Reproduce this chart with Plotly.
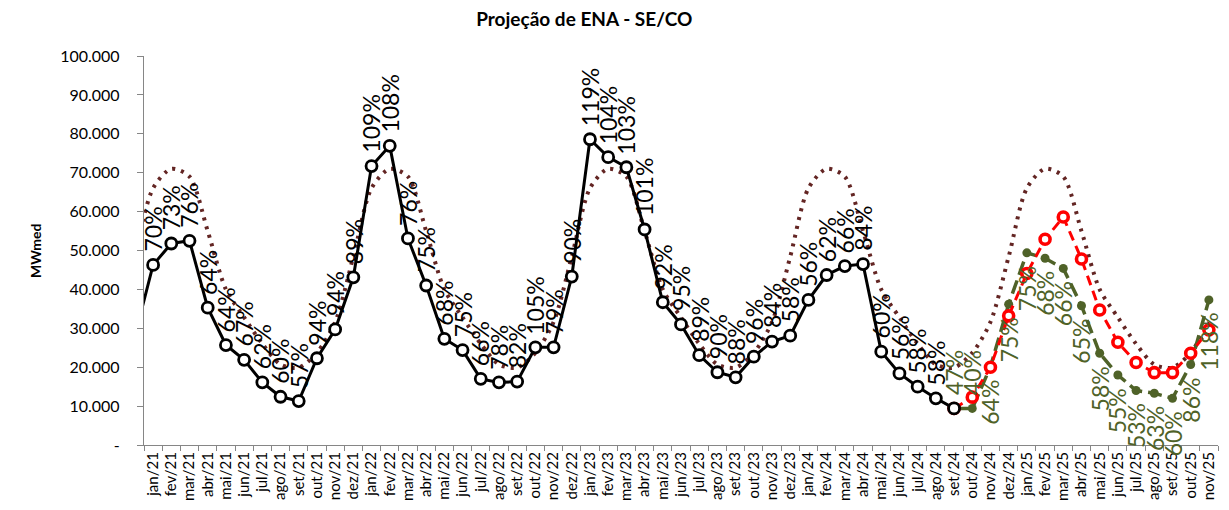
import plotly.graph_objects as go

# ---------------- data ----------------
lead_month = "dez/20"
months = [
    "jan/21", "fev/21", "mar/21", "abr/21", "mai/21", "jun/21", "jul/21", "ago/21", "set/21", "out/21", "nov/21", "dez/21",
    "jan/22", "fev/22", "mar/22", "abr/22", "mai/22", "jun/22", "jul/22", "ago/22", "set/22", "out/22", "nov/22", "dez/22",
    "jan/23", "fev/23", "mar/23", "abr/23", "mai/23", "jun/23", "jul/23", "ago/23", "set/23", "out/23", "nov/23", "dez/23",
    "jan/24", "fev/24", "mar/24", "abr/24", "mai/24", "jun/24", "jul/24", "ago/24", "set/24", "out/24", "nov/24", "dez/24",
    "jan/25", "fev/25", "mar/25", "abr/25", "mai/25", "jun/25", "jul/25", "ago/25", "set/25", "out/25", "nov/25",
]

# MLT (long-term average), dez/20 .. nov/25
mlt = [
    48400,
    66000, 71000, 69000, 55000, 40000, 32800, 26000, 20700, 19900, 23700, 31600, 48400,
    66000, 71000, 69000, 55000, 40000, 32800, 26000, 20700, 19900, 23700, 31600, 48400,
    66000, 71000, 69000, 55000, 40000, 32800, 26000, 20700, 19900, 23700, 31600, 48400,
    66000, 71000, 69000, 55000, 40000, 32800, 26000, 20700, 19900, 23700, 31600, 48400,
    66000, 71000, 69000, 55000, 40000, 32800, 26000, 20700, 19900, 23700, 31600,
]

# Verified ENA, dez/20 .. set/24
ena_verified = [
    28000,
    46300, 51800, 52500, 35300, 25700, 21900, 16100, 12400, 11300, 22300, 29700, 43100,
    71700, 76900, 53100, 41000, 27300, 24400, 17000, 16100, 16300, 25100, 25100, 43300,
    78600, 74000, 71400, 55400, 36700, 31000, 23100, 18700, 17400, 22700, 26600, 28100,
    37300, 43700, 46000, 46500, 24000, 18400, 15000, 12000, 9400,
]
# % MLT labels, jan/21 .. ago/24
ena_verified_pct = [
    70, 73, 76, 64, 64, 67, 62, 60, 57, 94, 94, 89,
    109, 108, 76, 75, 68, 75, 66, 78, 82, 105, 79, 90,
    119, 104, 103, 101, 92, 95, 89, 90, 88, 96, 84, 58,
    56, 62, 66, 84, 60, 56, 58, 58,
]

forecast_months = months[44:]  # set/24 .. nov/25
forecast_red = [9400, 12300, 20000, 33200, 44100, 52900, 58600, 47800, 34700, 26400, 21200, 18600, 18600, 23600, 29600]
forecast_green = [9400, 9400, 20100, 36200, 49400, 48000, 45400, 35800, 23600, 18000, 14000, 13300, 12000, 20700, 37300]
forecast_green_pct = [47, 40, 64, 75, 75, 68, 66, 65, 58, 55, 53, 63, 60, 86, 118]

y_tickvals = [0, 10000, 20000, 30000, 40000, 50000, 60000, 70000, 80000, 90000, 100000]
y_ticktext = ["-", "10.000", "20.000", "30.000", "40.000", "50.000", "60.000", "70.000", "80.000", "90.000", "100.000"]

# ---------------- styles ----------------
FONT = "Lato, 'Liberation Sans Narrow', sans-serif"
BLACK = "#000000"
MLT_C = "#632523"
RED = "#FF0000"
GREEN = "#4F6228"
AXIS_C = "#868686"

all_months = [lead_month] + months

fig = go.Figure()

fig.add_trace(go.Scatter(
    x=all_months, y=mlt, mode="lines", name="MLT",
    line=dict(color=MLT_C, width=4, dash="3px,6px", shape="spline", smoothing=0.8),
    hoverinfo="skip",
))

fig.add_trace(go.Scatter(
    x=forecast_months, y=forecast_green, mode="lines+markers", name="Cenário 2",
    line=dict(color=GREEN, width=3.5, dash="14px,6px"),
    marker=dict(symbol="circle", size=9, color=GREEN),
))

fig.add_trace(go.Scatter(
    x=forecast_months, y=forecast_red, mode="lines+markers", name="Cenário 1",
    line=dict(color=RED, width=3, dash="10px,6px"),
    marker=dict(symbol="circle", size=10, color="white", line=dict(color=RED, width=3.6)),
))

fig.add_trace(go.Scatter(
    x=[lead_month] + months[:45], y=ena_verified, mode="lines+markers", name="ENA verificada",
    line=dict(color=BLACK, width=3),
    marker=dict(symbol="circle", size=11, color="white", line=dict(color=BLACK, width=2.8)),
))

annotations = []
for m, v, p in zip(months[:44], ena_verified[1:45], ena_verified_pct):
    annotations.append(dict(
        x=m, y=v, xref="x", yref="y", text=f"{p}%", showarrow=False,
        textangle=-90, xanchor="center", yanchor="bottom", yshift=11,
        font=dict(family=FONT, size=23, color=BLACK),
    ))
for i, (m, v, p) in enumerate(zip(forecast_months, forecast_green, forecast_green_pct)):
    above = i < 2
    annotations.append(dict(
        x=m, y=v, xref="x", yref="y", text=f"{p}%", showarrow=False,
        textangle=-90, xanchor="center", yanchor="bottom" if above else "top",
        yshift=11 if above else -11,
        font=dict(family=FONT, size=23, color=GREEN),
    ))
annotations.append(dict(
    x=-0.101, y=0.5, xref="paper", yref="paper", text="<b>MWmed</b>", showarrow=False,
    textangle=-90, xanchor="center", yanchor="middle",
    font=dict(family=FONT, size=14, color=BLACK),
))

fig.update_layout(
    width=1221, height=502,
    paper_bgcolor="white", plot_bgcolor="white",
    margin=dict(l=136, r=11, t=48, b=65),
    showlegend=False,
    title=dict(text="<b>Projeção de ENA - SE/CO</b>", x=0.472, xanchor="center",
               y=0.978, yanchor="middle", yref="container",
               font=dict(family=FONT, size=19, color=BLACK)),
    annotations=annotations,
    font=dict(family=FONT),
)

fig.update_xaxes(
    type="category", categoryorder="array", categoryarray=all_months,
    range=[0.5, len(all_months) - 0.5], automargin=False,
    tickmode="array", tickvals=months, ticktext=months,
    tickangle=-90, tickson="boundaries",
    ticks="outside", ticklen=5, tickcolor=AXIS_C,
    showline=True, linecolor=AXIS_C, linewidth=1.3,
    showgrid=False, zeroline=False,
    tickfont=dict(family=FONT, size=15, color=BLACK),
)
fig.update_yaxes(
    range=[0, 100000], automargin=False,
    tickmode="array", tickvals=y_tickvals, ticktext=y_ticktext,
    ticks="outside", ticklen=6, tickcolor=AXIS_C,
    showline=True, linecolor=AXIS_C, linewidth=1.3,
    showgrid=False, zeroline=False,
    ticklabelstandoff=14,
    tickfont=dict(family=FONT, size=16, color=BLACK),
)

fig.write_html("out.html")
